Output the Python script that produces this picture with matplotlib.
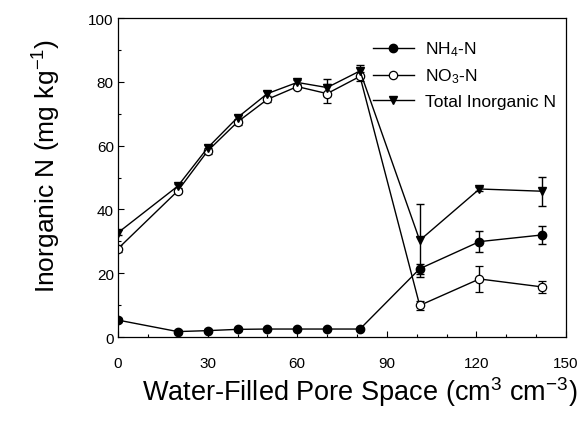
import numpy as np
import matplotlib
matplotlib.use("Agg")
import matplotlib.pyplot as plt
from matplotlib.ticker import MultipleLocator

plt.rcParams["font.family"] = ["Liberation Sans", "DejaVu Sans"]
plt.rcParams["mathtext.fontset"] = "custom"
plt.rcParams["mathtext.rm"] = "Liberation Sans"
plt.rcParams["mathtext.it"] = "Liberation Sans"

# -----------------------------
# Data
# -----------------------------
wfps = [0, 20, 30, 40, 50, 60, 70, 81, 101, 121, 142]

nh4 = [5.3, 1.7, 2.0, 2.4, 2.5, 2.5, 2.5, 2.5, 21.4, 29.9, 32.0]
nh4_err = [0.6, 0.4, 0.4, 0.4, 0.4, 0.4, 0.4, 0.4, 1.5, 3.2, 2.9]

no3 = [27.7, 45.8, 58.3, 67.4, 74.5, 78.5, 76.3, 81.7, 9.9, 18.2, 15.7]
no3_err = [1.0, 0.8, 0.8, 0.8, 0.8, 0.8, 3.0, 1.5, 1.5, 4.0, 1.8]

total = [32.7, 47.3, 59.3, 68.8, 76.3, 79.8, 78.2, 83.4, 30.3, 46.4, 45.7]
total_err = [0.8, 0.8, 0.8, 0.8, 0.8, 0.8, 2.8, 2.0, 11.4, 0.5, 4.6]

# -----------------------------
# Plot
# -----------------------------
fig = plt.figure(figsize=(5.86, 4.27), dpi=100)
ax = fig.add_axes([0.2014, 0.2084, 0.7646, 0.7471])

common = dict(color="black", lw=1.0, capsize=3, elinewidth=1.0, capthick=1.0)
ax.errorbar(wfps, nh4, yerr=nh4_err, marker="o", ms=6, mfc="black",
            mec="black", label="NH$_4$-N", **common)
ax.errorbar(wfps, no3, yerr=no3_err, marker="o", ms=6, mfc="white",
            mec="black", mew=0.9, label="NO$_3$-N", **common)
ax.errorbar(wfps, total, yerr=total_err, marker="v", ms=6, mfc="black",
            mec="black", label="Total Inorganic N", **common)

ax.set_xlim(0, 150)
ax.set_ylim(0, 100)
ax.xaxis.set_major_locator(MultipleLocator(30))
ax.xaxis.set_minor_locator(MultipleLocator(10))
ax.yaxis.set_major_locator(MultipleLocator(20))
ax.yaxis.set_minor_locator(MultipleLocator(10))
ax.tick_params(which="both", direction="in", top=False, right=False,
               labelsize=11, width=0.8)
ax.tick_params(which="major", length=4)
ax.tick_params(which="minor", length=2.5)
ax.tick_params(axis="x", pad=14)
ax.tick_params(axis="y", pad=3)
for sp in ax.spines.values():
    sp.set_linewidth(0.9)

ax.set_xlabel("Water-Filled Pore Space (cm$^3$ cm$^{-3}$)", fontsize=19.5)
ax.set_ylabel("Inorganic N (mg kg$^{-1}$)", fontsize=19)
ax.xaxis.set_label_coords(0.54, -0.118)
ax.yaxis.set_label_coords(-0.123, 0.54)

handles, labels = ax.get_legend_handles_labels()
handles = [h[0] for h in handles]
ax.legend(handles, labels, loc="upper right", frameon=False, fontsize=12.5,
          handlelength=2.4, handletextpad=0.6, labelspacing=0.48,
          borderaxespad=0.2, bbox_to_anchor=(1.0, 0.965))

fig.savefig("out.png", dpi=100)
